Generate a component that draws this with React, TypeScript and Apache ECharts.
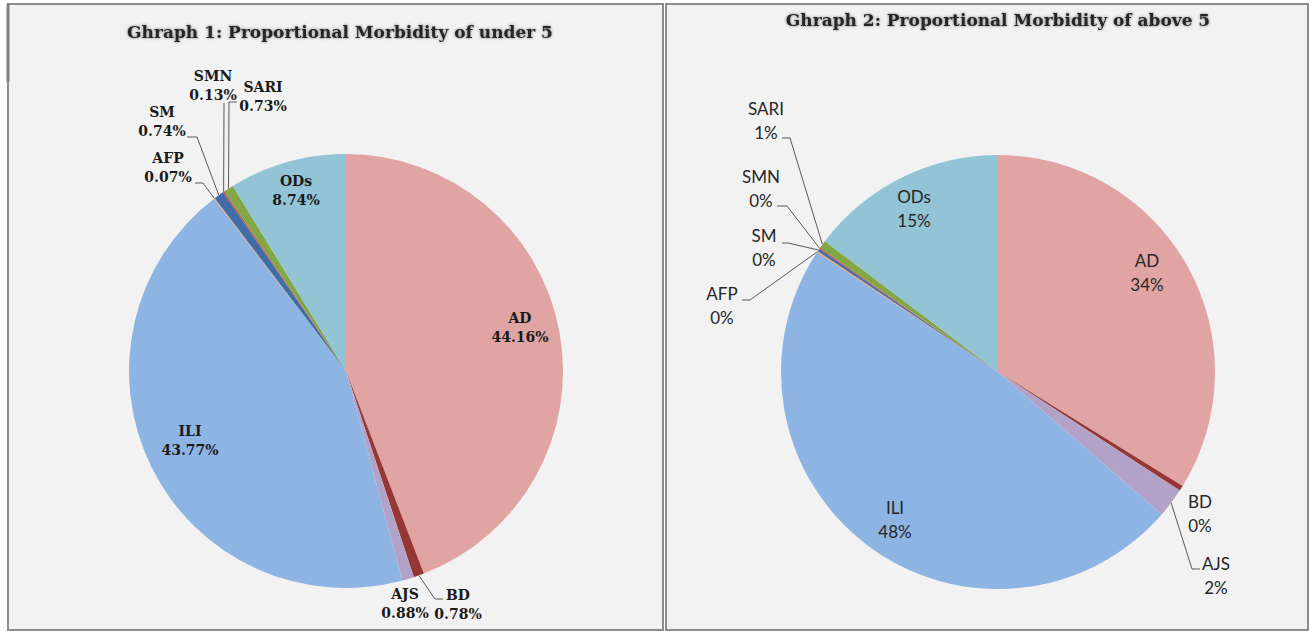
import React, { useEffect, useRef } from "react";
import * as echarts from "echarts";

// ---- Data ----
const categories = ["AD", "BD", "AJS", "ILI", "AFP", "SM", "SMN", "SARI", "ODs"];
const under5Values = [44.16, 0.78, 0.88, 43.77, 0.07, 0.74, 0.13, 0.73, 8.74];
const above5Values = [33.8, 0.4, 2.2, 47.9, 0.1, 0.2, 0.1, 0.6, 14.7];
const chartTitles = [
  "Ghraph 1: Proportional Morbidity of under 5",
  "Ghraph 2: Proportional Morbidity of above 5",
];

// ---- Styles / layout ----
const sliceColors = [
  "#e0a4a3", "#963735", "#b3a2c7", "#8eb4e3", "#f2a46a",
  "#3f6da8", "#c0504d", "#82a846", "#93c4d6",
];

const leftLabelPos = [
  [520, 327], [458, 604], [405, 603], [190, 440], [168, 167],
  [162, 121], [213, 85], [263, 96], [296, 190],
];
const leftLeaderBends: (number[][] | null)[] = [
  null, [[435, 599], [443, 599]], null, null, [[203, 183], [195, 183]],
  [[197, 137], [187, 137]], [[224, 103], [224, 103]], [[229, 102], [237, 102]], null,
];
const rightLabelPos = [
  [1147, 272], [1200, 513], [1216, 575], [895, 519], [722, 305],
  [764, 247], [761, 188], [766, 120], [914, 208],
];
const rightLeaderBends: (number[][] | null)[] = [
  null, null, [[1192, 569], [1200, 569]], null, [[750, 300], [742, 300]],
  [[788, 243], [782, 243]], [[787, 206], [777, 206]], [[790, 138], [782, 138]], null,
];

function buildData(values: number[], leaders: (number[][] | null)[]) {
  return categories.map((name, i) => ({
    name,
    value: values[i],
    itemStyle: { color: sliceColors[i] },
    labelLine: { show: !!leaders[i] },
  }));
}

function makeLayout(pos: number[][], bends: (number[][] | null)[]) {
  return (params: any) => {
    const i = params.dataIndex;
    const res: any = {
      x: pos[i][0],
      y: pos[i][1],
      align: "center",
      verticalAlign: "middle",
    };
    const b = bends[i];
    if (b && params.labelLinePoints) {
      res.labelLinePoints = [params.labelLinePoints[0], b[0], b[1]];
    }
    return res;
  };
}

export default function App() {
  const ref = useRef<HTMLDivElement>(null);
  useEffect(() => {
    if (!ref.current) return;
    const chart = echarts.init(ref.current, undefined, { renderer: "svg" });
    const titleStyle = {
      font: "bold 17px 'DejaVu Serif'",
      fill: "#262626",
      align: "center",
      verticalAlign: "middle",
      textShadowColor: "rgba(0,0,0,0.5)",
      textShadowBlur: 3,
    };
    chart.setOption({
      animation: false,
      backgroundColor: "#ffffff",
      graphic: [
        {
          type: "rect",
          z: -10,
          shape: { x: 8, y: 4, width: 655, height: 626 },
          style: { fill: "#f2f2f2", stroke: "#8c8c8c", lineWidth: 2 },
        },
        {
          type: "line",
          z: -9,
          shape: { x1: 8, y1: 4, x2: 8, y2: 82 },
          style: { stroke: "#7f7f7f", lineWidth: 3 },
        },
        {
          type: "rect",
          z: -10,
          shape: { x: 666, y: 4, width: 642, height: 626 },
          style: { fill: "#f2f2f2", stroke: "#8c8c8c", lineWidth: 2 },
        },
        {
          type: "text",
          x: 340,
          y: 32,
          style: { ...titleStyle, text: chartTitles[0] },
        },
        {
          type: "text",
          x: 998,
          y: 20,
          style: { ...titleStyle, text: chartTitles[1] },
        },
      ],
      series: [
        {
          type: "pie",
          center: [346, 371],
          radius: 217,
          startAngle: 90,
          clockwise: true,
          avoidLabelOverlap: false,
          itemStyle: { borderWidth: 0 },
          label: {
            show: true,
            position: "outside",
            fontFamily: "DejaVu Serif",
            fontWeight: "bold",
            fontSize: 14,
            lineHeight: 19,
            color: "#1a1a1a",
            formatter: (p: any) => `${p.name}\n${p.value.toFixed(2)}%`,
          },
          labelLine: { show: true, lineStyle: { color: "#595959", width: 1 } },
          labelLayout: makeLayout(leftLabelPos, leftLeaderBends),
          data: buildData(under5Values, leftLeaderBends),
        },
        {
          type: "pie",
          center: [998, 372],
          radius: 217,
          startAngle: 90,
          clockwise: true,
          avoidLabelOverlap: false,
          itemStyle: { borderWidth: 0 },
          label: {
            show: true,
            position: "outside",
            fontFamily: "Lato",
            fontSize: 17,
            lineHeight: 24,
            color: "#262626",
            formatter: (p: any) => `${p.name}\n${Math.round(p.value)}%`,
          },
          labelLine: { show: true, lineStyle: { color: "#595959", width: 1 } },
          labelLayout: makeLayout(rightLabelPos, rightLeaderBends),
          data: buildData(above5Values, rightLeaderBends),
        },
      ],
    });
    return () => chart.dispose();
  }, []);
  return (
    <div
      ref={ref}
      style={{ position: "fixed", left: 0, top: 0, width: 1314, height: 632 }}
    />
  );
}
